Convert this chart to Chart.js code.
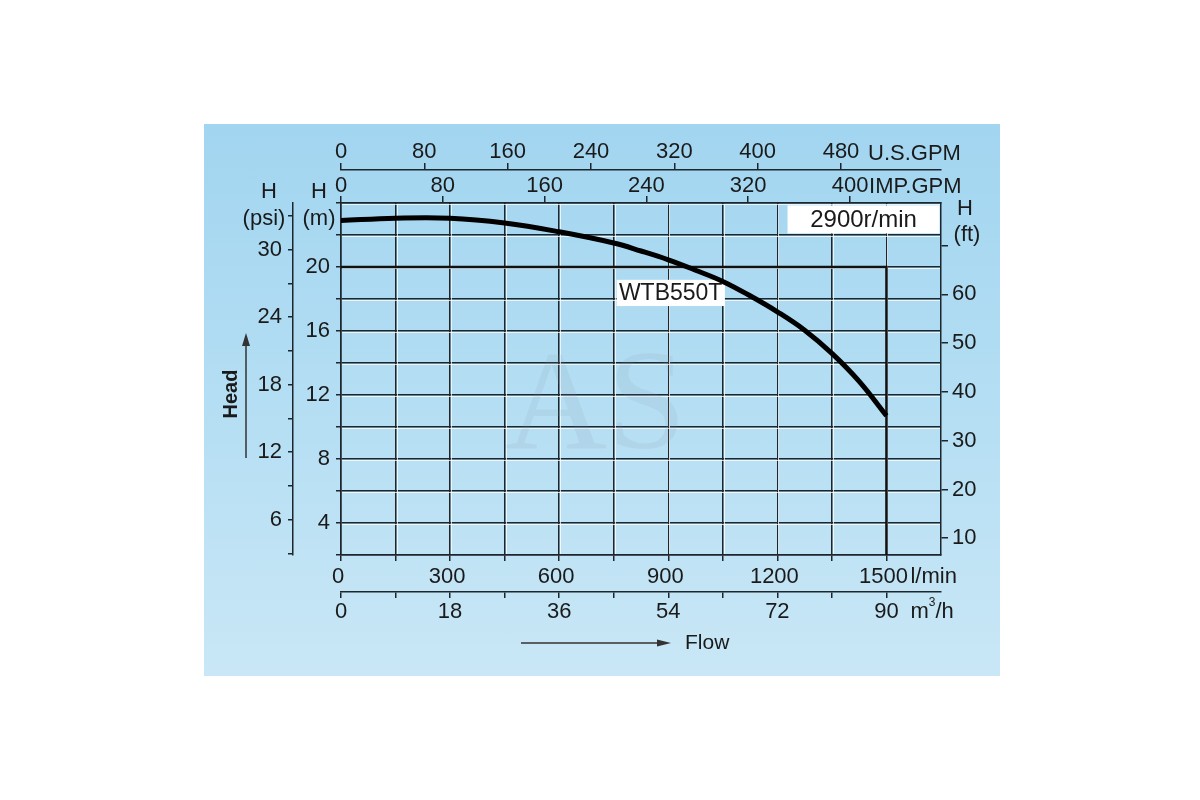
<!DOCTYPE html>
<html><head><meta charset="utf-8">
<script src="https://cdn.jsdelivr.net/npm/chart.js@4.4.1/dist/chart.umd.min.js"></script>
<style>
html,body{margin:0;padding:0;background:#fff;}
#wrap{position:relative;width:1200px;height:800px;overflow:hidden;}
#panel{position:absolute;left:204px;top:124px;width:796px;height:552px;
  background:linear-gradient(180deg,#a2d5f0 0%,#b2ddf3 45%,#c9e7f6 100%);}
canvas{position:absolute;left:0;top:0;}
</style></head><body>
<div id="wrap"><div id="panel"></div><canvas id="c" width="1200" height="800"></canvas></div>
<script>
// ---- data ----
const flowLmin = [0, 150, 300, 450, 600, 750, 825, 900, 975, 1050, 1125, 1200, 1275, 1350, 1425, 1500];
const headM    = [22.9, 23.05, 23.05, 22.75, 22.2, 21.5, 21.0, 20.45, 19.8, 19.1, 18.2, 17.2, 16.05, 14.6, 12.85, 10.7];
const ratedFlow = [0, 1500, 1500];
const ratedHead = [20, 20, 2];

const lminTicks   = [0,150,300,450,600,750,900,1050,1200,1350,1500];
const lminLabels  = [0,300,600,900,1200,1500];
const m3hTicks    = [0,9,18,27,36,45,54,63,72,81,90];
const m3hLabels   = [0,18,36,54,72,90];
const usGpmTicks  = [0,80,160,240,320,400,480];
const impGpmTicks = [0,80,160,240,320,400];
const headMTicks  = [2,4,6,8,10,12,14,16,18,20,22,24];
const headMLabels = [4,8,12,16,20];
const psiTicks    = [3,6,9,12,15,18,21,24,27,30,33];
const psiLabels   = [6,12,18,24,30];
const ftTicks     = [10,20,30,40,50,60,70];
const ftLabels    = [10,20,30,40,50,60];

const FAM = '"Liberation Sans", Arial, sans-serif';
const FONT = {family: FAM, size: 22};
const INK = '#1a1a1a';
const GRID = '#1d262c';

function fixed(vals){ return s => { s.ticks = vals.map(v => ({value: v})); }; }
function show(labels){ return v => labels.includes(v) ? String(v) : ''; }
function axis(extra){
  return Object.assign({
    type: 'linear',
    border: {color: GRID, width: 1.5},
    ticks: {font: FONT, color: INK, maxRotation: 0, autoSkip: false},
  }, extra);
}

const decor = {
  id: 'decor',
  beforeDatasetsDraw(chart){
    const {ctx, chartArea: ca, scales: {x, y}} = chart;
    ctx.save();
    // light highlight beside each grid line (embossed look)
    ctx.strokeStyle = 'rgba(255,255,255,0.75)';
    ctx.lineWidth = 1;
    lminTicks.forEach(v => {
      if (v === 0) return;
      const px = Math.round(x.getPixelForValue(v)) + 1.5;
      ctx.beginPath(); ctx.moveTo(px, ca.top + 1); ctx.lineTo(px, ca.bottom - 1); ctx.stroke();
    });
    headMTicks.forEach(v => {
      if (v === 2) return;
      const py = Math.round(y.getPixelForValue(v)) + 1.5;
      ctx.beginPath(); ctx.moveTo(ca.left + 1, py); ctx.lineTo(ca.right - 1, py); ctx.stroke();
    });
    // watermark
    ctx.font = '142px "Liberation Serif", "DejaVu Serif", serif';
    ctx.fillStyle = 'rgba(130,150,165,0.12)';
    ctx.textAlign = 'center'; ctx.textBaseline = 'alphabetic';
    ctx.fillText('AS', x.getPixelForValue(700), y.getPixelForValue(8.7));
    // label boxes
    const box = (x0, x1, y0, y1, txt, size) => {
      const px0 = x.getPixelForValue(x0), px1 = x.getPixelForValue(x1);
      const py0 = y.getPixelForValue(y0), py1 = y.getPixelForValue(y1);
      ctx.fillStyle = '#ffffff';
      ctx.fillRect(px0, py0, px1 - px0, py1 - py0);
      ctx.fillStyle = INK;
      ctx.font = size + 'px ' + FAM;
      ctx.textAlign = 'center'; ctx.textBaseline = 'middle';
      ctx.fillText(txt, (px0 + px1) / 2, (py0 + py1) / 2 + 1);
    };
    box(1228, 1646, 23.85, 22.1, '2900r/min', 24);
    box(758, 1055, 19.2, 17.56, 'WTB550T', 23);
    ctx.restore();
  },
  afterDraw(chart){
    const {ctx, scales} = chart;
    ctx.save();
    ctx.fillStyle = INK; ctx.strokeStyle = '#333';
    ctx.font = '22px ' + FAM;
    ctx.textBaseline = 'middle';
    // unit labels
    ctx.textAlign = 'left';
    ctx.fillText('U.S.GPM', scales.xUs.getPixelForValue(480) + 27, 154);
    ctx.fillText('IMP.GPM', scales.xImp.getPixelForValue(400) + 19, 187);
    const ux = scales.x.getPixelForValue(1500) + 24;
    ctx.fillText('l/min', ux, 577);
    ctx.fillText('m', ux, 612);
    const mw = ctx.measureText('m').width;
    ctx.font = '12px ' + FAM;
    ctx.fillText('3', ux + mw, 603);
    const sw = ctx.measureText('3').width;
    ctx.font = '22px ' + FAM;
    ctx.fillText('/h', ux + mw + sw, 612);
    // axis headers
    ctx.textAlign = 'center';
    ctx.fillText('H', 269, 192);
    ctx.fillText('(psi)', 264, 219);
    ctx.fillText('H', 319, 192);
    ctx.fillText('(m)', 319, 219);
    ctx.fillText('H', 965, 209);
    ctx.fillText('(ft)', 967, 235);
    // Head label + arrow
    ctx.save();
    ctx.translate(231, 394);
    ctx.rotate(-Math.PI / 2);
    ctx.font = 'bold 20px ' + FAM;
    ctx.fillText('Head', 0, 0);
    ctx.restore();
    ctx.lineWidth = 1.5;
    ctx.beginPath(); ctx.moveTo(246, 458); ctx.lineTo(246, 344); ctx.stroke();
    ctx.fillStyle = '#333';
    ctx.beginPath(); ctx.moveTo(246, 333); ctx.lineTo(242, 346); ctx.lineTo(250, 346); ctx.closePath(); ctx.fill();
    // Flow label + arrow
    ctx.beginPath(); ctx.moveTo(521, 643); ctx.lineTo(660, 643); ctx.stroke();
    ctx.beginPath(); ctx.moveTo(671, 643); ctx.lineTo(657, 639.5); ctx.lineTo(657, 646.5); ctx.closePath(); ctx.fill();
    ctx.fillStyle = INK;
    ctx.textAlign = 'left';
    ctx.font = '21px ' + FAM;
    ctx.fillText('Flow', 685, 643);
    ctx.restore();
  }
};

new Chart(document.getElementById('c'), {
  type: 'line',
  data: {
    datasets: [
      {label: 'WTB550T', data: flowLmin.map((f, i) => ({x: f, y: headM[i]})),
       borderColor: '#000', borderWidth: 5, pointRadius: 0, fill: false,
       tension: 0.4, order: 0, xAxisID: 'x', yAxisID: 'y'},
      {label: 'rated', data: ratedFlow.map((f, i) => ({x: f, y: ratedHead[i]})),
       borderColor: '#111', borderWidth: 2.5, pointRadius: 0, fill: false,
       tension: 0, order: 1, xAxisID: 'x', yAxisID: 'y'}
    ]
  },
  options: {
    responsive: false, animation: false, devicePixelRatio: 1,
    layout: {padding: {left: 233, right: 200, top: 130, bottom: 173}},
    plugins: {legend: {display: false}, tooltip: {enabled: false}},
    scales: {
      x: axis({position: 'bottom', min: 0, max: 1650, weight: 0,
        afterBuildTicks: fixed(lminTicks), afterFit: s => { s.height = 37; },
        grid: {color: GRID, lineWidth: 1.5, tickLength: 6},
        ticks: {font: FONT, color: INK, padding: 3, labelOffset: -3, maxRotation: 0, autoSkip: false, callback: show(lminLabels)}}),
      xM3h: axis({position: 'bottom', min: 0, max: 99, weight: 1,
        afterBuildTicks: fixed(m3hTicks), afterFit: s => { s.height = 35; },
        grid: {drawOnChartArea: false, color: GRID, lineWidth: 1.5, tickLength: 6},
        ticks: {font: FONT, color: INK, padding: 1, maxRotation: 0, autoSkip: false, callback: show(m3hLabels)}}),
      xImp: axis({position: 'top', min: 0, max: 471.5, weight: 0,
        afterBuildTicks: fixed(impGpmTicks), afterFit: s => { s.height = 33; },
        grid: {drawOnChartArea: false, color: GRID, lineWidth: 1.5, tickLength: 7},
        ticks: {font: FONT, color: INK, padding: -3, maxRotation: 0, autoSkip: false}}),
      xUs: axis({position: 'top', min: 0, max: 576, weight: 1,
        afterBuildTicks: fixed(usGpmTicks), afterFit: s => { s.height = 40; },
        grid: {drawOnChartArea: false, color: GRID, lineWidth: 1.5, tickLength: 7},
        ticks: {font: FONT, color: INK, padding: -2, maxRotation: 0, autoSkip: false}}),
      y: axis({position: 'left', min: 2, max: 24, weight: 0,
        afterBuildTicks: fixed(headMTicks), afterFit: s => { s.width = 48; },
        grid: {color: GRID, lineWidth: 1.5, tickLength: 5},
        ticks: {font: FONT, color: INK, padding: 6, autoSkip: false, callback: show(headMLabels)}}),
      yPsi: axis({position: 'left', min: 2 * 1.4223, max: 24 * 1.4223, weight: 1,
        afterBuildTicks: fixed(psiTicks), afterFit: s => { s.width = 60; },
        grid: {drawOnChartArea: false, color: GRID, lineWidth: 1.5, tickLength: 5},
        ticks: {font: FONT, color: INK, padding: 6, autoSkip: false, callback: show(psiLabels)}}),
      yFt: axis({position: 'right', min: 2 / 0.3048, max: 24 / 0.3048, weight: 0,
        afterBuildTicks: fixed(ftTicks), afterFit: s => { s.width = 59; },
        grid: {drawOnChartArea: false, color: GRID, lineWidth: 1.5, tickLength: 7},
        ticks: {font: FONT, color: INK, padding: 4, autoSkip: false, callback: show(ftLabels)}})
    }
  },
  plugins: [decor]
});
</script>
</body></html>
